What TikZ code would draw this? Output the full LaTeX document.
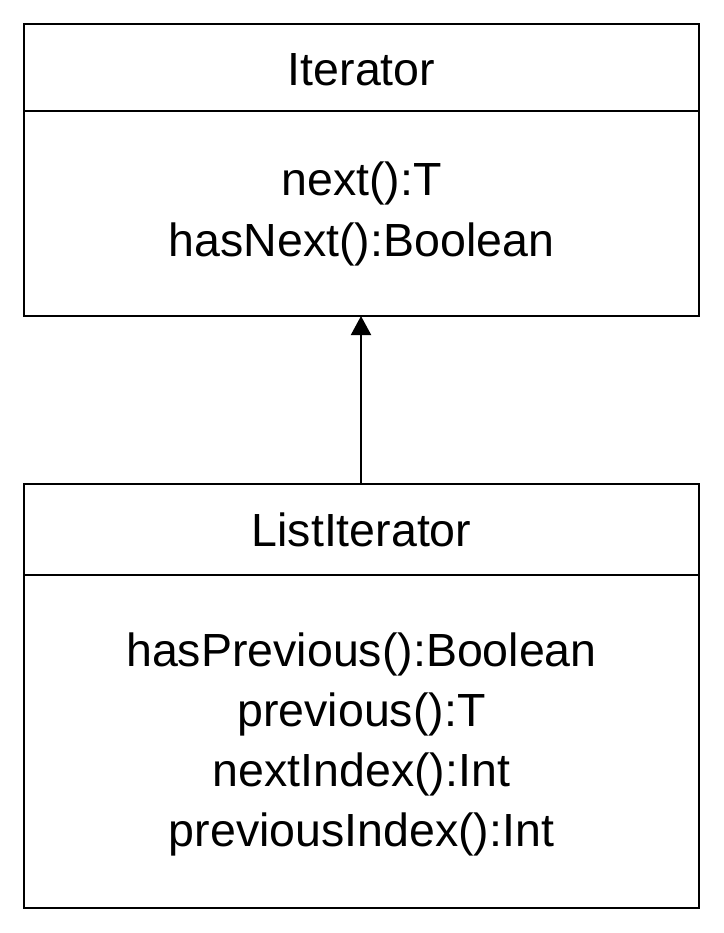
\documentclass[tikz,border=0pt]{standalone}
\usepackage{fontspec}
\setmainfont{Liberation Sans}
\usetikzlibrary{arrows.meta}
\begin{document}
\begin{tikzpicture}[x=1pt,y=-1pt,
  boxline/.style={draw=black,line width=2pt},
  label/.style={font=\fontsize{46.5}{60}\selectfont,anchor=base,inner sep=0pt,align=center}]
\useasboundingbox (0,0) rectangle (723,933);
% Iterator box
\draw[boxline] (24,24) rectangle (699,316);
\draw[boxline] (24,111) -- (699,111);
\coordinate (itbot) at (361,316);
\node[label] (ittitle) at (361.5,86) {Iterator};
\node[label] (itm1) at (361.5,196) {next():T};
\node[label] (itm2) at (361.5,256) {hasNext():Boolean};
% ListIterator box
\draw[boxline] (24,484) rectangle (699,908);
\draw[boxline] (24,575) -- (699,575);
\coordinate (ltop) at (361,484);
\node[label] (lttitle) at (361.5,546) {ListIterator};
\node[label] (ltm1) at (361.5,666) {hasPrevious():Boolean};
\node[label] (ltm2) at (361.5,726) {previous():T};
\node[label] (ltm3) at (361.5,786) {nextIndex():Int};
\node[label] (ltm4) at (361.5,846) {previousIndex():Int};
% inheritance arrow
\draw[line width=2pt,-{Triangle[length=19pt,width=20pt]}] (ltop) -- (itbot);
\end{tikzpicture}
\end{document}
